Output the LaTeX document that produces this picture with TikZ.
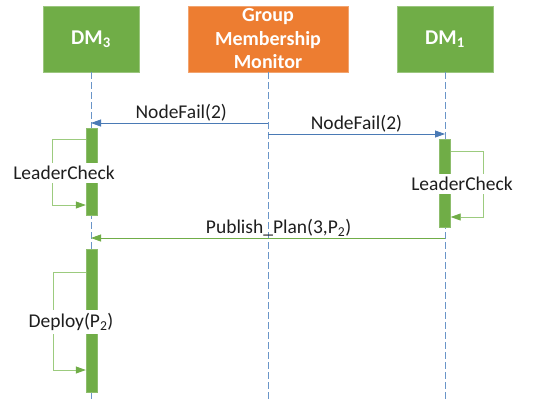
\documentclass[tikz,border=0pt]{standalone}
\usepackage{fontspec}
\setmainfont{Carlito}
\usetikzlibrary{arrows.meta}

\definecolor{dmgreen}{HTML}{70AD47}
\definecolor{loopgreen}{HTML}{9CCB7E}
\definecolor{gmmorange}{HTML}{ED7D31}
\definecolor{msgblue}{HTML}{4A7AB5}
\definecolor{lineblue}{HTML}{6A95C8}
\definecolor{textgray}{HTML}{1E1E1E}

\tikzset{
  actor/.style={draw=dmgreen!70!white, fill=dmgreen, text=white,
    font=\fontsize{21}{23.5}\selectfont\bfseries,
    minimum width=96pt, minimum height=66pt, inner sep=0pt},
  monitor/.style={actor, draw=gmmorange!70!white, fill=gmmorange,
    font=\fontsize{20}{23.5}\selectfont\bfseries,
    minimum width=160pt, align=center},
  lifeline/.style={draw=lineblue, line width=0.7pt, dash pattern=on 7pt off 3pt},
  bar/.style={draw=dmgreen!80!white, fill=dmgreen, minimum width=11pt, inner sep=0pt},
  msg/.style={draw=msgblue, line width=0.8pt, -{Triangle[length=10pt,width=7pt]}},
  reply/.style={draw=dmgreen, line width=0.8pt, -{Triangle[length=10pt,width=7pt]}},
  selfloop/.style={draw=loopgreen, line width=0.8pt,
    -{Triangle[length=10pt,width=7pt,color=dmgreen]}},
  msglabel/.style={text=textgray, font=\fontsize{19.5}{22}\selectfont, inner sep=1pt},
  looplabel/.style={msglabel, fill=white, inner sep=3pt}
}

\begin{document}
\begin{tikzpicture}[x=1pt, y=-1pt]
    \useasboundingbox (0,0) rectangle (537,400);

    % actors
    \node[actor] (dm3) at (91,39) {DM\textsubscript{3}};
    \node[monitor] (gmm) at (268,39) {Group\\Membership\\Monitor};
    \node[actor] (dm1) at (445,39) {DM\textsubscript{1}};

    % lifelines
    \coordinate (dm3end) at (91,400);
    \coordinate (gmmend) at (268,400);
    \coordinate (dm1end) at (445,400);
    \draw[lifeline] (dm3) -- (dm3end);
    \draw[lifeline] (gmm) -- (gmmend);
    \draw[lifeline] (dm1) -- (dm1end);

    % activation bars
    \node[bar, minimum height=87pt] (bar3a) at (91.5,171.5) {};
    \node[bar, minimum height=88pt] (bar1) at (445,183) {};
    \node[bar, minimum height=143pt] (bar3b) at (91.5,320.5) {};

    % messages
    \draw[msg] (gmm |- 0,123) -- (dm3 |- 0,123)
        node[msglabel, pos=0.49, above] {NodeFail(2)};
    \draw[msg] (gmm |- 0,134) -- (dm1 |- 0,134)
        node[msglabel, midway, above] {NodeFail(2)};
    \draw[reply] (dm1 |- 0,238) -- (dm3 |- 0,238)
        node[msglabel, pos=0.47, above] {Publish\_Plan(3,P\textsubscript{2})};

    % self calls
    \draw[selfloop] (bar3a.west |- 0,139) -- ++(-33,0) |- (bar3a.west |- 0,205);
    \node[looplabel] (check3) at (64,173) {LeaderCheck};
    \draw[selfloop] (bar1.east |- 0,151) -- ++(33,0) |- (bar1.east |- 0,217);
    \node[looplabel] (check1) at (462,184) {LeaderCheck};
    \draw[selfloop] (bar3b.west |- 0,272) -- ++(-32,0) |- (bar3b.west |- 0,370);
    \node[looplabel] (deploy3) at (71,322) {Deploy(P\textsubscript{2})};
\end{tikzpicture}
\end{document}
